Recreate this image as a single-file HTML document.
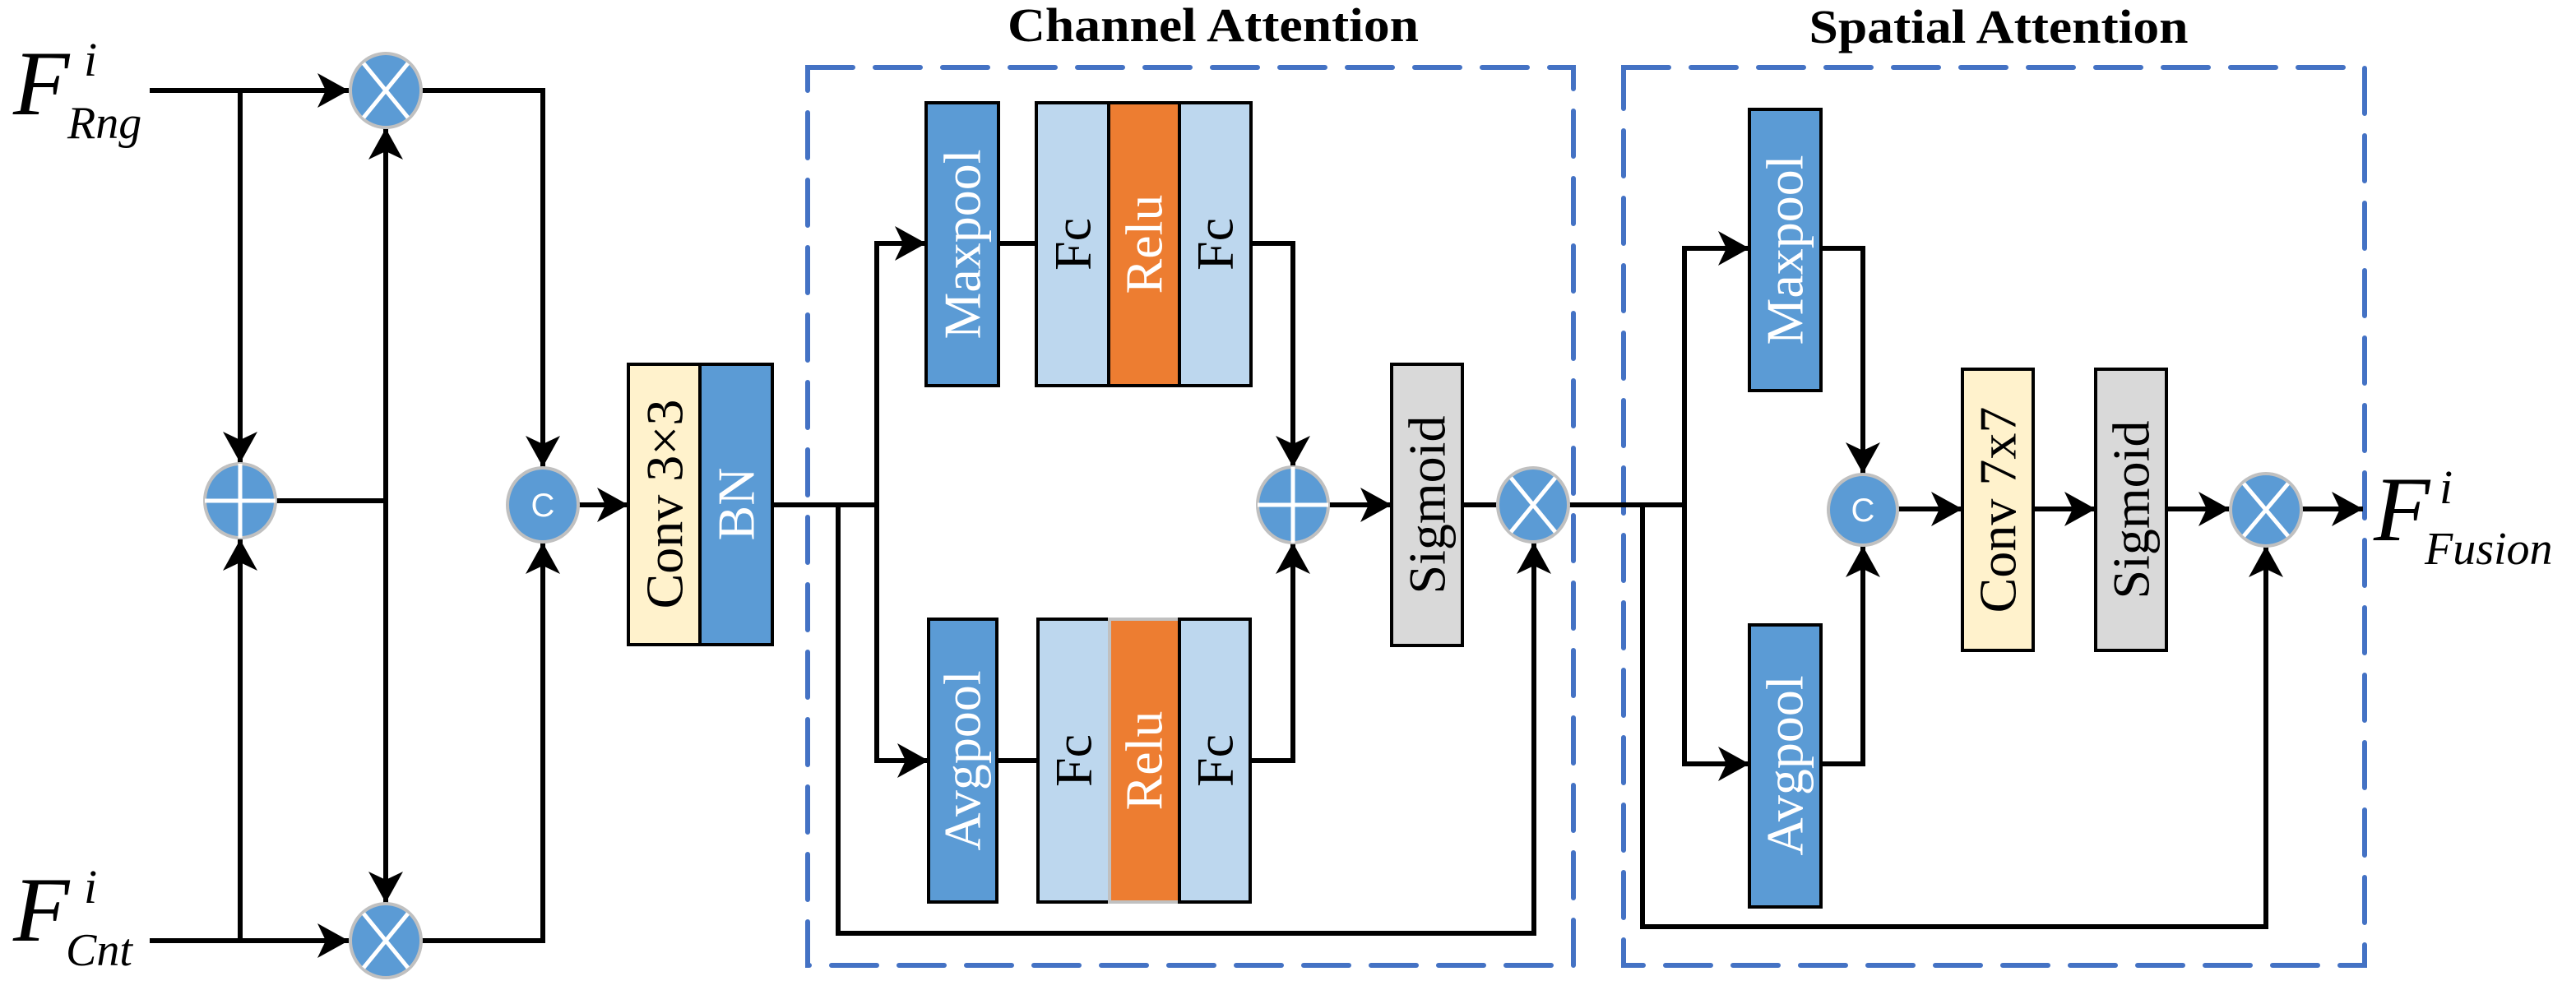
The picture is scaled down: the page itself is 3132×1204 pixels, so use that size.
<!DOCTYPE html>
<html><head><meta charset="utf-8"><style>
html,body{margin:0;padding:0;background:#fff;}
svg{display:block;}
.s{font-family:"Liberation Serif","Times New Roman",serif;}
</style></head><body>
<svg width="3132" height="1204" viewBox="0 0 3132 1204" xmlns="http://www.w3.org/2000/svg">
<defs>
<marker id="ah" markerWidth="40" markerHeight="42" refX="38" refY="21" orient="auto" markerUnits="userSpaceOnUse">
<path d="M0,0 L38,21 L0,42 L10,21 Z" fill="#000"/>
</marker>
</defs>
<rect width="3132" height="1204" fill="#fff"/>

<rect x="982" y="82" width="931" height="1092" fill="none" stroke="#4472C4" stroke-width="6" stroke-dasharray="55,27" stroke-linecap="round"/>
<rect x="1974" y="82" width="901" height="1092" fill="none" stroke="#4472C4" stroke-width="6" stroke-dasharray="55,27" stroke-linecap="round"/>
<text class="s" font-family="Liberation Serif, serif" x="1475" y="50" font-size="58" font-weight="bold" text-anchor="middle" textLength="500" lengthAdjust="spacingAndGlyphs">Channel Attention</text>
<text class="s" font-family="Liberation Serif, serif" x="2430" y="52" font-size="58" font-weight="bold" text-anchor="middle" textLength="461" lengthAdjust="spacingAndGlyphs">Spatial Attention</text>

<g stroke="#000" stroke-width="6" fill="none" stroke-linejoin="miter">
<line x1="182" y1="110" x2="424" y2="110" marker-end="url(#ah)"/>
<line x1="292" y1="110" x2="292" y2="563" marker-end="url(#ah)"/>
<line x1="182" y1="1144" x2="424" y2="1144" marker-end="url(#ah)"/>
<line x1="292" y1="1144" x2="292" y2="656" marker-end="url(#ah)"/>
<line x1="336" y1="609" x2="469" y2="609"/>
<line x1="469" y1="609" x2="469" y2="156" marker-end="url(#ah)"/>
<line x1="469" y1="609" x2="469" y2="1098" marker-end="url(#ah)"/>
<polyline points="513,110 660,110 660,568" marker-end="url(#ah)"/>
<polyline points="513,1144 660,1144 660,660" marker-end="url(#ah)"/>
<line x1="704" y1="614" x2="764" y2="614" marker-end="url(#ah)"/>
<line x1="939" y1="614" x2="1066" y2="614"/>
<polyline points="1066,614 1066,296 1126,296" marker-end="url(#ah)"/>
<polyline points="1066,614 1066,925 1129,925" marker-end="url(#ah)"/>
<polyline points="1019,614 1019,1135 1865,1135 1865,660" marker-end="url(#ah)"/>
<line x1="1214" y1="296" x2="1262" y2="296"/>
<line x1="1212" y1="925" x2="1262" y2="925"/>
<polyline points="1521,296 1572,296 1572,568" marker-end="url(#ah)"/>
<polyline points="1520,925 1572,925 1572,660" marker-end="url(#ah)"/>
<line x1="1615" y1="614" x2="1692" y2="614" marker-end="url(#ah)"/>
<line x1="1778" y1="614" x2="1821" y2="614"/>
<line x1="1907" y1="614" x2="2048" y2="614"/>
<polyline points="2048,614 2048,302 2127,302" marker-end="url(#ah)"/>
<polyline points="2048,614 2048,929 2127,929" marker-end="url(#ah)"/>
<polyline points="1997,614 1997,1127 2755,1127 2755,664" marker-end="url(#ah)"/>
<polyline points="2214,302 2265,302 2265,576" marker-end="url(#ah)"/>
<polyline points="2214,929 2265,929 2265,664" marker-end="url(#ah)"/>
<line x1="2307" y1="619" x2="2386" y2="619" marker-end="url(#ah)"/>
<line x1="2472" y1="619" x2="2548" y2="619" marker-end="url(#ah)"/>
<line x1="2634" y1="619" x2="2711" y2="619" marker-end="url(#ah)"/>
<line x1="2799" y1="619" x2="2873" y2="619" marker-end="url(#ah)"/>
</g>

<g stroke="#000" stroke-width="4">
<rect x="764" y="443" width="87" height="341" fill="#FFF2CC"/>
<rect x="851" y="443" width="88" height="341" fill="#5B9BD5"/>
<rect x="1126" y="125" width="88" height="344" fill="#5B9BD5"/>
<rect x="1260" y="125" width="88" height="344" fill="#BDD7EE"/>
<rect x="1348" y="125" width="86" height="344" fill="#ED7D31"/>
<rect x="1434" y="125" width="87" height="344" fill="#BDD7EE"/>
<rect x="1129" y="753" width="83" height="344" fill="#5B9BD5"/>
<rect x="1262" y="753" width="87" height="344" fill="#BDD7EE"/>
<rect x="1349" y="753" width="85" height="344" fill="#ED7D31" stroke="#c0c0c0"/>
<rect x="1434" y="753" width="86" height="344" fill="#BDD7EE"/>
<rect x="1692" y="443" width="86" height="342" fill="#D9D9D9"/>
<rect x="2127" y="133" width="87" height="342" fill="#5B9BD5"/>
<rect x="2127" y="760" width="87" height="343" fill="#5B9BD5"/>
<rect x="2386" y="449" width="86" height="342" fill="#FFF2CC"/>
<rect x="2548" y="449" width="86" height="342" fill="#D9D9D9"/>
</g>

<g class="s" font-family="Liberation Serif, serif" font-size="64" text-anchor="middle" dominant-baseline="central">
<text transform="translate(808,613) rotate(-90)" fill="#000">Conv 3×3</text>
<text transform="translate(895,613) rotate(-90)" fill="#fff">BN</text>
<text transform="translate(1170,297) rotate(-90)" fill="#fff">Maxpool</text>
<text transform="translate(1304,297) rotate(-90)" fill="#000">Fc</text>
<text transform="translate(1391,297) rotate(-90)" fill="#fff">Relu</text>
<text transform="translate(1477,297) rotate(-90)" fill="#000">Fc</text>
<text transform="translate(1170,925) rotate(-90)" fill="#fff">Avgpool</text>
<text transform="translate(1305,925) rotate(-90)" fill="#000">Fc</text>
<text transform="translate(1391,925) rotate(-90)" fill="#fff">Relu</text>
<text transform="translate(1477,925) rotate(-90)" fill="#000">Fc</text>
<text transform="translate(1735,614) rotate(-90)" fill="#000">Sigmoid</text>
<text transform="translate(2170,304) rotate(-90)" fill="#fff">Maxpool</text>
<text transform="translate(2170,931) rotate(-90)" fill="#fff">Avgpool</text>
<text transform="translate(2429,620) rotate(-90)" fill="#000">Conv 7x7</text>
<text transform="translate(2591,620) rotate(-90)" fill="#000">Sigmoid</text>
</g>

<g stroke="#c0c0c0" stroke-width="4" fill="#5B9BD5">
<ellipse cx="469" cy="110" rx="43" ry="45"/>
<ellipse cx="469" cy="1144" rx="43" ry="45"/>
<ellipse cx="292" cy="609" rx="43" ry="45"/>
<ellipse cx="660" cy="614" rx="43" ry="45"/>
<ellipse cx="1572" cy="614" rx="43" ry="46"/>
<ellipse cx="1864" cy="614" rx="43" ry="45"/>
<ellipse cx="2265" cy="620" rx="42" ry="43"/>
<ellipse cx="2755" cy="620" rx="43" ry="44"/>
</g>
<g stroke="#fff" stroke-width="5">
<line x1="442" y1="77" x2="496" y2="143"/><line x1="496" y1="77" x2="442" y2="143"/>
<line x1="442" y1="1111" x2="496" y2="1177"/><line x1="496" y1="1111" x2="442" y2="1177"/>
<line x1="1837" y1="581" x2="1891" y2="647"/><line x1="1891" y1="581" x2="1837" y2="647"/>
<line x1="2728" y1="588" x2="2782" y2="652"/><line x1="2782" y1="588" x2="2728" y2="652"/>
<line x1="249" y1="609" x2="335" y2="609"/><line x1="292" y1="564" x2="292" y2="654"/>
<line x1="1529" y1="614" x2="1615" y2="614"/><line x1="1572" y1="568" x2="1572" y2="660"/>
</g>
<g font-family="Liberation Sans, sans-serif" font-size="40" fill="#fff" text-anchor="middle">
<text x="660" y="628">C</text>
<text x="2265" y="634">C</text>
</g>

<g class="s" font-family="Liberation Serif, serif" font-style="italic" fill="#000">
<text x="16" y="139" font-size="112">F</text>
<text x="102" y="92" font-size="58">i</text>
<text x="82" y="168" font-size="56">Rng</text>
<text x="16" y="1144" font-size="112">F</text>
<text x="102" y="1098" font-size="58">i</text>
<text x="80" y="1174" font-size="56">Cnt</text>
<text x="2886" y="657" font-size="112">F</text>
<text x="2966" y="612" font-size="58">i</text>
<text x="2948" y="686" font-size="56">Fusion</text>
</g>
</svg>
</body></html>
